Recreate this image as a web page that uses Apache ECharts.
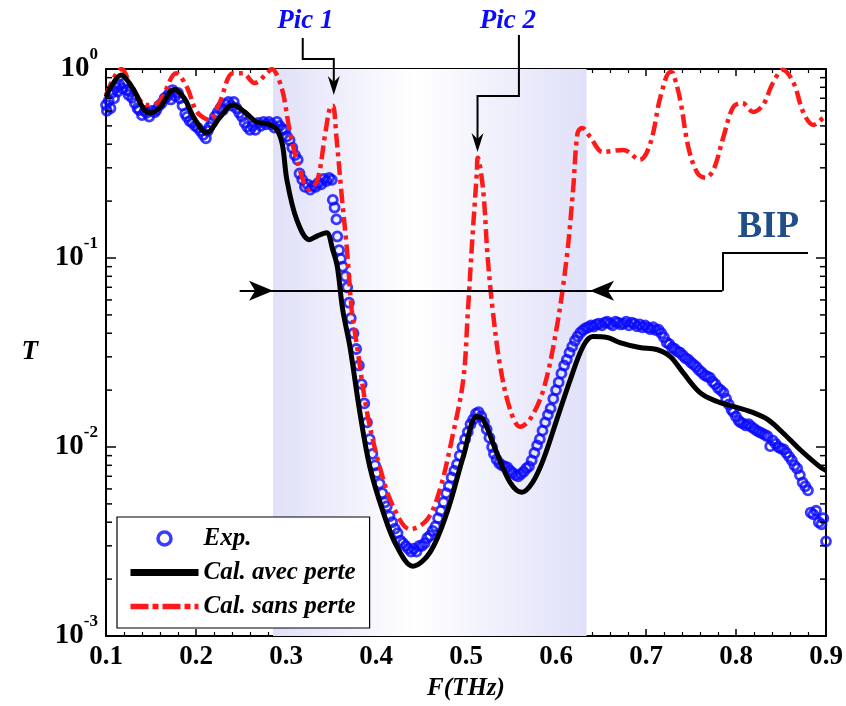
<!DOCTYPE html>
<html>
<head>
<meta charset="utf-8">
<script src="https://cdn.jsdelivr.net/npm/echarts@6/dist/echarts.min.js"></script>
<style>html,body{margin:0;padding:0;background:#fff}#c{width:846px;height:706px}</style>
</head>
<body>
<div id="c"></div>
<script>
// ---------- data ----------
const expF = [0.100,0.101,0.103,0.105,0.107,0.109,0.111,0.113,0.115,0.118,0.120,0.123,0.125,0.127,0.129,0.132,0.135,0.137,0.140,0.143,0.145,0.148,0.151,0.154,0.156,0.159,0.162,0.165,0.167,0.170,0.172,0.174,0.177,0.180,0.182,0.185,0.188,0.190,0.193,0.196,0.199,0.202,0.205,0.208,0.211,0.213,0.215,0.218,0.221,0.224,0.227,0.230,0.233,0.236,0.239,0.242,0.245,0.248,0.251,0.254,0.257,0.260,0.263,0.266,0.269,0.272,0.275,0.278,0.281,
0.284,0.287,0.290,0.293,0.296,0.299,0.301,0.304,0.307,0.310,0.313,0.315,0.318,0.321,0.324,0.327,0.330,0.333,0.336,0.339,0.342,0.345,0.348,0.351,0.352,0.354,0.356,0.357,0.359,0.361,0.363,0.366,0.368,0.370,0.372,0.375,0.378,0.381,0.384,0.387,0.390,0.393,0.396,0.399,0.401,0.404,0.407,0.410,0.412,0.415,0.418,0.421,0.424,0.427,0.430,0.433,0.436,0.439,0.442,0.445,0.448,0.451,0.454,0.457,0.460,0.463,0.466,0.469,0.472,0.475,0.478,0.481,0.484,0.487,0.490,0.493,0.496,0.499,0.502,0.505,0.508,0.511,0.514,0.517,0.520,0.523,0.526,0.529,0.531,0.534,0.537,0.540,0.543,0.546,0.549,0.552,0.555,0.558,0.561,0.564,0.567,0.570,0.573,0.576,0.579,0.582,0.585,0.588,0.591,0.594,0.597,0.600,0.603,0.606,0.609,0.612,0.615,0.618,0.621,0.624,0.627,0.630,0.633,0.636,0.639,0.642,0.645,0.648,0.651,0.654,0.657,0.660,0.663,0.666,0.669,0.672,0.675,0.678,0.681,0.684,0.687,0.690,0.693,0.696,0.699,0.702,0.705,0.708,0.711,0.714,0.717,0.720,0.723,0.726,0.729,0.732,0.735,0.738,0.741,0.744,0.747,0.750,0.753,0.756,0.759,0.762,0.765,0.768,0.771,0.774,0.777,0.780,0.783,0.786,0.789,0.792,0.795,0.797,0.800,0.803,0.805,0.808,0.811,0.814,0.817,0.820,0.823,0.826,0.829,0.832,0.835,0.838,0.841,0.844,0.847,0.850,0.853,0.856,0.859,0.862,0.865,0.868,0.871,0.874,0.877,0.880,0.883,0.886,0.889,0.892,0.895,0.897,0.900];
const expT = [0.645,0.600,0.680,0.620,0.750,0.700,0.800,0.760,0.823,0.790,0.840,0.774,0.730,0.760,0.703,0.660,0.620,0.607,0.570,0.600,0.586,0.560,0.600,0.590,0.607,0.640,0.660,0.700,0.711,0.740,0.690,0.774,0.720,0.747,0.700,0.640,0.580,0.558,0.530,0.519,0.500,0.488,0.470,0.448,0.430,0.470,0.494,0.520,0.560,0.590,0.620,0.607,0.650,0.669,0.640,0.669,0.620,0.586,0.560,0.520,0.494,0.476,0.500,0.476,0.519,0.500,0.525,0.510,0.525,
0.510,0.490,0.525,0.500,0.480,0.476,0.440,0.420,0.383,0.350,0.331,0.280,0.260,0.238,0.245,0.230,0.240,0.238,0.250,0.245,0.262,0.255,0.265,0.259,0.203,0.185,0.160,0.130,0.110,0.0990,0.0900,0.0800,0.0700,0.0580,0.0480,0.0400,0.0330,0.0270,0.0215,0.0170,0.0135,0.0110,0.0092,0.0080,0.0073,0.0064,0.0057,0.0051,0.00486,0.0043,0.0040,0.0037,0.0035,0.0032,0.0031,0.0030,0.0029,0.0028,0.0029,0.0028,0.0030,0.0030,0.0031,0.0033,0.0034,0.0036,0.0038,0.0042,0.0046,0.0051,0.0057,0.0062,0.0069,0.0075,0.0081,0.0090,0.0100,0.0110,0.0120,0.0132,0.0140,0.0150,0.0153,0.0145,0.0135,0.0124,0.0112,0.0100,0.0092,0.0086,0.0082,0.0080,0.0079,0.0078,0.0075,0.0073,0.0071,0.0070,0.0072,0.0074,0.0077,0.0079,0.0085,0.0093,0.0102,0.0110,0.0122,0.0135,0.0148,0.0160,0.0180,0.0200,0.0220,0.0245,0.0270,0.0290,0.0316,0.0340,0.0365,0.0385,0.0403,0.0415,0.0425,0.0430,0.0440,0.0434,0.0445,0.0450,0.0440,0.0455,0.0460,0.0450,0.0440,0.0460,0.0455,0.0445,0.0450,0.0460,0.0440,0.0455,0.0450,0.0435,0.0445,0.0430,0.0440,0.0428,0.0420,0.0430,0.0415,0.0418,0.0400,0.0380,0.0357,0.0350,0.0335,0.0330,0.0320,0.0316,0.0305,0.0295,0.0290,0.0280,0.0273,0.0265,0.0255,0.0248,0.0240,0.0236,0.0233,0.0222,0.0215,0.0205,0.0200,0.0194,0.0180,0.0168,0.0158,0.0153,0.0145,0.0138,0.0135,0.0133,0.0130,0.0132,0.0128,0.0125,0.0122,0.0120,0.0118,0.0116,0.0114,0.0101,0.0108,0.0104,0.0100,0.0098,0.0097,0.0093,0.0089,0.0085,0.0080,0.0077,0.0071,0.0065,0.0062,0.0059,0.0045,0.0044,0.0046,0.0040,0.0039,0.0042,0.00317];

const avecF = [0.100,0.117,0.129,0.148,0.159,0.176,0.187,0.198,0.212,0.226,0.241,0.254,0.267,0.281,0.290,0.296,0.301,0.312,0.326,0.335,0.345,0.352,0.357,0.363,0.371,0.382,0.393,0.408,0.423,0.441,0.460,0.479,0.497,0.512,0.519,0.534,0.549,0.562,0.574,0.586,0.601,0.616,0.630,0.641,0.657,0.671,0.693,0.712,0.727,0.741,0.760,0.779,0.797,0.816,0.835,0.852,0.871,0.894,0.900];
const avecT = [0.711,0.930,0.800,0.586,0.620,0.780,0.700,0.550,0.460,0.550,0.645,0.593,0.525,0.510,0.476,0.397,0.259,0.159,0.125,0.131,0.136,0.110,0.090,0.0533,0.0340,0.0153,0.0079,0.00452,0.00299,0.00234,0.00277,0.00452,0.0089,0.0145,0.0140,0.00936,0.0065,0.00576,0.0065,0.0086,0.0140,0.0228,0.0340,0.0384,0.0380,0.0357,0.0336,0.0328,0.0301,0.0248,0.0194,0.0174,0.0164,0.0154,0.0140,0.0119,0.0097,0.0078,0.00752];

const sansF = [0.100,0.117,0.129,0.145,0.159,0.178,0.190,0.201,0.215,0.226,0.241,0.252,0.265,0.279,0.284,0.295,0.304,0.313,0.326,0.335,0.343,0.349,0.352,0.356,0.362,0.368,0.373,0.379,0.390,0.404,0.419,0.438,0.457,0.471,0.485,0.497,0.502,0.507,0.512,0.513,0.519,0.524,0.530,0.538,0.549,0.560,0.571,0.586,0.601,0.612,0.619,0.624,0.629,0.638,0.652,0.675,0.693,0.705,0.716,0.727,0.730,0.738,0.747,0.757,0.766,0.775,0.786,0.797,0.807,0.819,0.830,0.841,0.852,0.864,0.875,0.886,0.897,0.900];
const sansT = [0.729,1.000,0.800,0.645,0.669,0.950,0.800,0.593,0.538,0.661,0.950,0.950,0.843,0.950,1.000,0.800,0.476,0.319,0.230,0.259,0.437,0.630,0.640,0.437,0.211,0.107,0.0533,0.0340,0.0153,0.0079,0.00486,0.00367,0.00414,0.00597,0.0114,0.0228,0.0514,0.125,0.282,0.339,0.230,0.1016,0.0514,0.0267,0.0158,0.0128,0.0140,0.0201,0.0434,0.1016,0.230,0.459,0.488,0.437,0.364,0.373,0.331,0.407,0.711,0.964,0.952,0.686,0.387,0.282,0.266,0.293,0.437,0.630,0.661,0.593,0.645,0.843,0.990,0.843,0.586,0.506,0.551,0.565];

const seriesNames = ['Exp.', 'Cal. avec perte', 'Cal. sans perte'];
const xTickValues = [0.1, 0.2, 0.3, 0.4, 0.5, 0.6, 0.7, 0.8, 0.9];
const yMinorTicks = [0.002,0.003,0.004,0.005,0.006,0.007,0.008,0.009,0.02,0.03,0.04,0.05,0.06,0.07,0.08,0.09,0.2,0.3,0.4,0.5,0.6,0.7,0.8,0.9];
const bandRange = [0.2856, 0.634];          // shaded BIP band (THz)
const bipLevel = 0.0672;                    // T level of the BIP arrow
const bipArrowF = [0.2485, 0.2856, 0.6378, 0.7848, 0.880];
const bipStepT = 0.107;
const picLabels = ['Pic 1', 'Pic 2'];
const picTextPos = [[0.3215, 1.80], [0.5466, 1.80]];
const picPaths = [
  [[0.3186, 1.458], [0.3186, 1.129], [0.3531, 1.129], [0.3531, 0.729]],
  [[0.5588, 1.512], [0.5588, 0.720], [0.5128, 0.720], [0.5128, 0.364]]
];
const bipText = 'BIP';
const bipTextPos = [0.8358, 0.1445];

// ---------- chart ----------
const SERIF = '"Liberation Serif","DejaVu Serif",serif';
const BLUE = '#0a0aff', RED = '#ff1a1a';
const zip = (a, b) => a.map((v, i) => [v, b[i]]);
const chart = echarts.init(document.getElementById('c'), null, {renderer: 'canvas'});

const yLabelFmt = v => {
  const e = Math.round(Math.log10(v));
  return '{b|10}{s|' + e + '}';
};

const option = {
  backgroundColor: '#fff',
  animation: false,
  grid: {left: 106, right: 20, top: 69, bottom: 69, containLabel: false},
  legend: {
    data: [
      {name: seriesNames[0], icon: 'circle', itemStyle: {color: '#fff', borderColor: BLUE, borderWidth: 3.5}},
      {name: seriesNames[1], itemStyle: {opacity: 0}, lineStyle: {color: '#000', width: 7}},
      {name: seriesNames[2], itemStyle: {opacity: 0}, lineStyle: {color: RED, width: 5.5, type: [18, 4, 6, 4], cap: 'butt'}}
    ],
    orient: 'vertical', left: 117, top: 517,
    padding: [9, 14, 9, 10], itemGap: 9, itemWidth: 68, itemHeight: 13,
    backgroundColor: '#fff', borderColor: '#000', borderWidth: 1.2, borderRadius: 0,
    selectedMode: false,
    textStyle: {fontFamily: SERIF, fontStyle: 'italic', fontWeight: 'bold', fontSize: 25, color: '#000'}
  },
  xAxis: [{
    type: 'value', min: 0.1, max: 0.9, interval: 0.1, position: 'bottom',
    name: 'F(THz)', nameLocation: 'middle', nameGap: 40,
    nameTextStyle: {fontFamily: SERIF, fontStyle: 'italic', fontWeight: 'bold', fontSize: 25, color: '#000'},
    axisLine: {show: true, onZero: false, lineStyle: {color: '#000', width: 2}},
    axisTick: {show: true, inside: true, length: 7, lineStyle: {color: '#000', width: 1.5}},
    minorTick: {show: true, splitNumber: 5, length: 4, lineStyle: {color: '#000', width: 1.2}},
    splitLine: {show: false},
    axisLabel: {margin: 8, fontFamily: SERIF, fontWeight: 'bold', fontSize: 27, color: '#000',
      formatter: v => v.toFixed(1)}
  }, {
    type: 'value', min: 0.1, max: 0.9, interval: 0.1, position: 'top',
    axisLine: {show: true, onZero: false, lineStyle: {color: '#000', width: 2}},
    axisTick: {show: true, inside: true, length: 7, lineStyle: {color: '#000', width: 1.5}},
    minorTick: {show: true, splitNumber: 5, length: 4, lineStyle: {color: '#000', width: 1.2}},
    splitLine: {show: false}, axisLabel: {show: false}
  }],
  yAxis: [{
    type: 'log', logBase: 10, min: 0.001, max: 1, position: 'left',
    name: 'T', nameLocation: 'middle', nameGap: 68, nameRotate: 0,
    nameTextStyle: {fontFamily: SERIF, fontStyle: 'italic', fontWeight: 'bold', fontSize: 27, color: '#000'},
    axisLine: {show: true, onZero: false, lineStyle: {color: '#000', width: 2}},
    axisTick: {show: true, inside: true, length: 10, lineStyle: {color: '#000', width: 1.5}},
    splitLine: {show: false},
    axisLabel: {margin: 8, formatter: yLabelFmt,
      rich: {
        b: {fontFamily: SERIF, fontWeight: 'bold', fontSize: 29, color: '#000'},
        s: {fontFamily: SERIF, fontWeight: 'bold', fontSize: 17, color: '#000', padding: [0, 0, 28, 0]}
      }}
  }, {
    type: 'log', logBase: 10, min: 0.001, max: 1, position: 'right',
    axisLine: {show: true, onZero: false, lineStyle: {color: '#000', width: 2}},
    axisTick: {show: true, inside: true, length: 10, lineStyle: {color: '#000', width: 1.5}},
    splitLine: {show: false}, axisLabel: {show: false}
  }],
  series: [
    {
      name: 'band', type: 'line', data: [], z: 1, silent: true,
      markArea: {
        silent: true,
        itemStyle: {
          color: new echarts.graphic.LinearGradient(0, 0, 1, 0, [
            {offset: 0, color: '#e0e0f9'},
            {offset: 0.45, color: '#ffffff'},
            {offset: 1, color: '#e0e0f9'}
          ])
        },
        data: [[{xAxis: bandRange[0]}, {xAxis: bandRange[1]}]]
      }
    },
    {
      name: seriesNames[0], type: 'scatter', data: zip(expF, expT), z: 3,
      symbol: 'circle', symbolSize: 9,
      itemStyle: {color: 'rgba(0,0,0,0)', borderColor: BLUE, borderWidth: 2.8}
    },
    {
      name: seriesNames[2], type: 'line', data: zip(sansF, sansT), z: 4,
      symbol: 'none', smooth: 0.35,
      lineStyle: {color: RED, width: 4.5, type: [14, 5, 4, 5], cap: 'butt'},
      itemStyle: {color: RED}
    },
    {
      name: seriesNames[1], type: 'line', data: zip(avecF, avecT), z: 5,
      symbol: 'none', smooth: 0.35,
      lineStyle: {color: '#000', width: 5},
      itemStyle: {color: '#000'}
    },
    {
      name: 'bip', type: 'line', data: [], z: 6, silent: true,
      markLine: {
        silent: true, animation: false,
        symbolSize: [15, 24],
        label: {show: false},
        lineStyle: {color: '#000', width: 2, type: 'solid'},
        data: [
          [{coord: [bipArrowF[0], bipLevel], symbol: 'none'}, {coord: [bipArrowF[1], bipLevel], symbol: 'arrow'}],
          [{coord: [bipArrowF[1], bipLevel], symbol: 'none'}, {coord: [bipArrowF[2], bipLevel], symbol: 'none'}],
          [{coord: [bipArrowF[3], bipLevel], symbol: 'none'}, {coord: [bipArrowF[2], bipLevel], symbol: 'arrow'}],
          [{coord: [bipArrowF[3], bipLevel], symbol: 'none'}, {coord: [bipArrowF[3], bipStepT], symbol: 'none'}],
          [{coord: [bipArrowF[3], bipStepT], symbol: 'none'}, {coord: [bipArrowF[4], bipStepT], symbol: 'none'}]
        ]
      }
    },
    {
      name: 'minorY', type: 'custom', z: 7, silent: true, clip: false,
      data: yMinorTicks.map(v => [0.1, v]),
      encode: {x: 0, y: 1},
      renderItem: (params, api) => {
        const v = api.value(1);
        const pl = api.coord([0.1, v]);
        const pr = api.coord([0.9, v]);
        const st = {stroke: '#000', lineWidth: 1.5};
        return {type: 'group', children: [
          {type: 'line', shape: {x1: pl[0], y1: pl[1], x2: pl[0] + 6, y2: pl[1]}, style: st},
          {type: 'line', shape: {x1: pr[0] - 6, y1: pr[1], x2: pr[0], y2: pr[1]}, style: st}
        ]};
      }
    }
  ]
};
chart.setOption(option);

// annotations anchored through the axes
const toPx = p => chart.convertToPixel({xAxisIndex: 0, yAxisIndex: 0}, p);
const graphics = [];
picPaths.forEach((path, i) => {
  const pts = path.map(toPx);
  const tip = pts[pts.length - 1];
  const shaft = pts.slice(0, -1).concat([[tip[0], tip[1] - 12]]);
  graphics.push({type: 'polyline', shape: {points: shaft}, style: {stroke: '#000', lineWidth: 2, fill: null}, z: 10});
  graphics.push({type: 'polygon', shape: {points: [[tip[0], tip[1]], [tip[0] - 6, tip[1] - 19], [tip[0], tip[1] - 13], [tip[0] + 6, tip[1] - 19]]},
    style: {fill: '#000'}, z: 10});
  const tp = toPx(picTextPos[i]);
  graphics.push({type: 'text', x: tp[0], y: tp[1], z: 10,
    style: {text: picLabels[i], fill: BLUE, font: 'italic bold 27px ' + SERIF, align: 'center', verticalAlign: 'middle'}});
});
const bp = toPx(bipTextPos);
graphics.push({type: 'text', x: bp[0], y: bp[1], z: 10,
  style: {text: bipText, fill: '#1f4e89', font: 'bold 37px ' + SERIF, align: 'center', verticalAlign: 'middle',
    shadowColor: 'rgba(0,0,0,0.3)', shadowOffsetX: 2, shadowOffsetY: 2, shadowBlur: 2}});
chart.setOption({graphic: graphics});
</script>
</body>
</html>
